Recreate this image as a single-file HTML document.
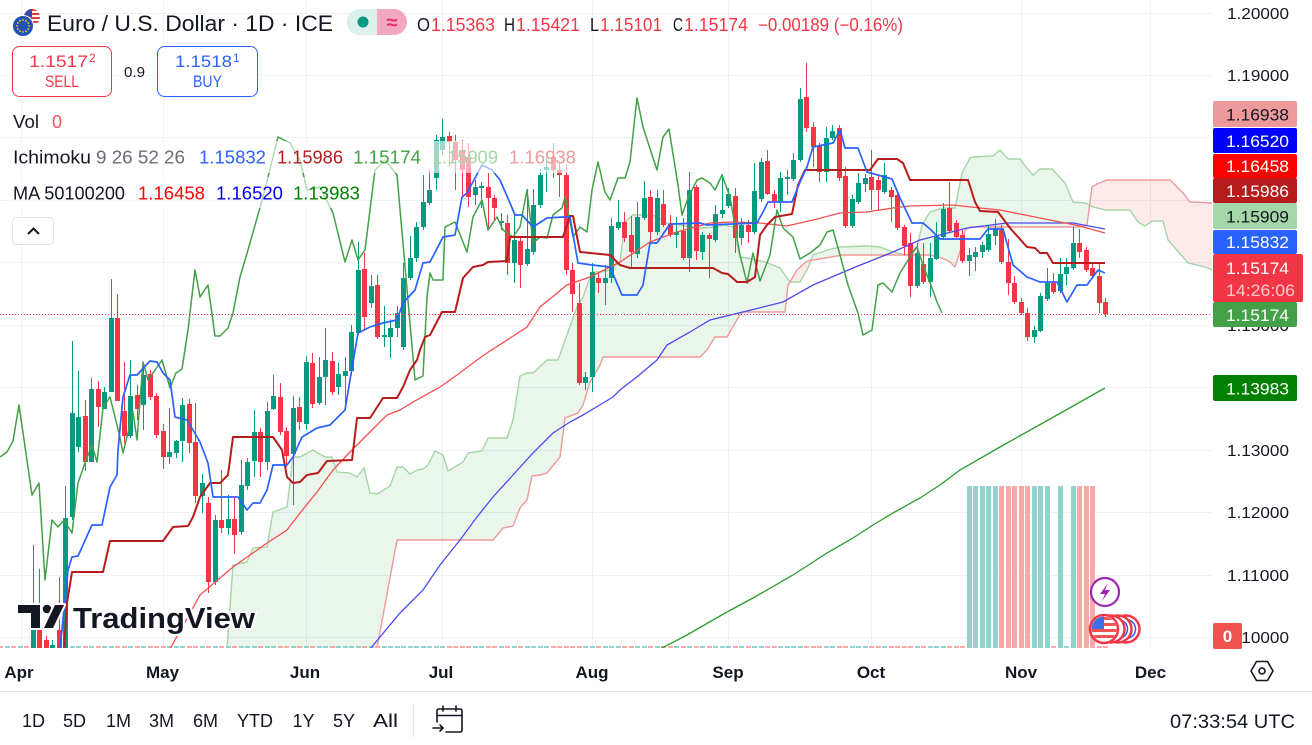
<!DOCTYPE html>
<html><head><meta charset="utf-8">
<style>
html,body{margin:0;padding:0;background:#fff;}
body{width:1312px;height:745px;overflow:hidden;}
svg{display:block;font-family:"Liberation Sans",sans-serif;}
</style></head>
<body>
<svg id="s" width="1312" height="745" viewBox="0 0 1312 745" xmlns="http://www.w3.org/2000/svg">
<defs>
  <clipPath id="chart"><rect x="0" y="0" width="1212" height="648"/></clipPath>
  <clipPath id="belowA"><polygon id="cpA" points="0,0"/></clipPath>
  <clipPath id="belowB"><polygon id="cpB" points="0,0"/></clipPath>
  <clipPath id="flagc"><circle cx="1104" cy="629" r="12.5"/></clipPath>
  <clipPath id="usc"><circle cx="32" cy="17" r="8"/></clipPath>
</defs>

<!-- grid -->
<g stroke="#EEF1F6" stroke-width="1">
  <line x1="0" y1="13.5" x2="1212" y2="13.5"/>
  <line x1="0" y1="75.5" x2="1212" y2="75.5"/>
  <line x1="0" y1="137.5" x2="1212" y2="137.5"/>
  <line x1="0" y1="200.5" x2="1212" y2="200.5"/>
  <line x1="0" y1="262.5" x2="1212" y2="262.5"/>
  <line x1="0" y1="325.5" x2="1212" y2="325.5"/>
  <line x1="0" y1="387.5" x2="1212" y2="387.5"/>
  <line x1="0" y1="450.5" x2="1212" y2="450.5"/>
  <line x1="0" y1="512.5" x2="1212" y2="512.5"/>
  <line x1="0" y1="575.5" x2="1212" y2="575.5"/>
  <line x1="0" y1="637.5" x2="1212" y2="637.5"/>
  <line x1="21.5" y1="0" x2="21.5" y2="648"/>
  <line x1="163.5" y1="0" x2="163.5" y2="648"/>
  <line x1="306.5" y1="0" x2="306.5" y2="648"/>
  <line x1="442.5" y1="0" x2="442.5" y2="648"/>
  <line x1="592.5" y1="0" x2="592.5" y2="648"/>
  <line x1="728.5" y1="0" x2="728.5" y2="648"/>
  <line x1="871.5" y1="0" x2="871.5" y2="648"/>
  <line x1="1021.5" y1="0" x2="1021.5" y2="648"/>
  <line x1="1150.5" y1="0" x2="1150.5" y2="648"/>
</g>

<g clip-path="url(#chart)">
  <!-- cloud -->
  <g clip-path="url(#belowA)"><polygon id="cloudG" points="0,0" fill="rgba(67,160,71,0.11)"/></g>
  <g clip-path="url(#belowB)"><polygon id="cloudR" points="0,0" fill="rgba(244,67,54,0.11)"/></g>
  <polyline id="spanA" fill="none" stroke="#A5D6A7" stroke-width="1.4" points="0,0"/>
  <polyline id="spanB" fill="none" stroke="#EF9A9A" stroke-width="1.4" points="0,0"/>

  <!-- volume -->
  <g id="vol"></g>

  <!-- candles -->
  <g id="candles"></g>

  <!-- moving averages -->
  <polyline fill="none" stroke="#2E9A2E" stroke-width="1.3" points="660,649 687,635 713,620 727,612 753,598 793,575 827,553 853,538 873,525 893,513 920,498 940,485 960,470 1000,447 1050,419 1105,388"/>
  <polyline fill="none" stroke="#4B4BF2" stroke-width="1.3" points="370,649 380,637 400,613 423,590 440,565 460,540 477,517 493,497 513,475 533,453 553,433 570,422 583,415 593,409 613,397 620,390 638,376 657,360 667,345 690,332 710,320 743,312 783,302 813,285 853,268 893,252 920,240 967,228 1007,223 1073,223 1105,229"/>
  <polyline fill="none" stroke="#F5504F" stroke-width="1.3" points="170,649 200,595 233,567 267,543 287,530 300,513 317,492 333,470 350,452 367,435 387,415 400,410 413,402 440,387 457,375 477,360 487,353 527,327 540,307 567,285 590,277 620,262 650,242 677,232 710,223 733,222 760,223 787,226 813,220 840,213 867,212 893,208 910,206 953,205 980,208 1000,210 1040,218 1080,226 1105,233"/>

  <!-- ichimoku -->
  <polyline fill="none" stroke="#43A047" stroke-width="1.5" stroke-linejoin="round" points="0,457 7,452 13,441 19,405 32,495 39,483 45,580 52,520 58,527 64,520 72,533 78,483 85,463 92,445 97,462 103,408 110,397 119,433 123,453 133,412 137,440 143,362 148,380 155,370 162,360 170,388 176,373 182,369 188,330 195,270 200,297 208,285 215,336 220,336 228,328 233,313 240,277 248,250 263,197 278,137 290,143 300,160 307,190 320,187 333,213 345,262 352,240 358,260 365,250 375,170 385,160 397,175 415,380 423,376 427,297 430,273 433,280 443,280 445,227 455,222 467,252 473,217 482,200 488,230 497,217 503,230 513,237 520,227 527,190 533,243 540,237 547,238 553,215 562,208 565,197 573,237 580,227 587,232 592,190 598,162 605,192 610,200 618,178 625,178 630,162 637,98 643,127 657,170 663,137 669,129 678,185 682,215 688,198 697,180 702,178 710,183 715,190 722,175 730,197 740,255 747,283 753,253 760,281 770,255 777,210 783,228 793,237 800,259 810,253 820,245 827,232 833,230 840,255 848,285 858,313 863,335 872,330 878,285 883,283 892,292 900,273 905,265 913,252 917,247 923,265 932,288 937,302 942,313"/>
  <polyline fill="none" stroke="#B71C1C" stroke-width="2" stroke-linejoin="round" points="64,649 67,603 72,572 103,572 110,541 163,541 173,527 188,526 193,517 200,497 210,483 220,483 228,475 233,437 273,437 282,450 287,477 293,483 300,482 307,475 318,473 327,461 352,460 357,418 370,418 383,398 397,398 403,387 410,370 417,360 420,350 425,337 430,335 442,312 455,312 463,278 473,267 483,265 488,262 507,261 510,237 563,237 570,216 573,216 580,252 600,254 610,255 620,265 630,268 713,268 722,273 728,274 737,282 747,282 755,277 760,235 767,225 775,217 792,214 798,185 805,170 870,170 878,159 897,159 903,163 910,180 968,180 975,202 980,211 998,212 1010,228 1027,247 1035,248 1040,253 1047,253 1053,263 1105,263"/>
  <polyline fill="none" stroke="#2962FF" stroke-width="1.7" stroke-linejoin="round" points="60,649 68,570 72,557 78,556 92,525 102,525 110,487 117,475 118,450 123,397 130,375 137,375 150,361 157,362 163,373 170,380 175,417 187,420 200,442 208,463 213,497 238,497 247,510 253,503 260,503 267,490 273,465 287,465 293,457 302,437 317,428 330,425 345,410 350,380 358,333 370,327 383,323 397,320 403,303 415,290 423,263 430,262 443,237 455,235 462,197 467,193 482,165 492,170 500,180 510,203 515,215 522,215 533,227 547,218 563,217 570,217 578,263 592,265 610,267 622,295 637,295 643,285 650,243 657,243 670,224 700,223 707,225 757,223 763,212 768,202 792,202 800,182 807,167 813,147 833,143 840,130 845,148 858,148 867,172 892,179 900,198 912,223 923,223 930,229 940,239 980,239 988,229 1003,229 1013,265 1027,277 1040,282 1057,282 1067,302 1077,285 1087,285 1098,270 1105,273"/>

  <!-- last price dotted line -->
  <line x1="0" y1="314.5" x2="1212" y2="314.5" stroke="#F23645" stroke-width="1" stroke-dasharray="1 2"/>
</g>

<!-- legend overlays -->
<rect x="8" y="141" width="574" height="32" fill="#fff" fill-opacity="0.6"/>
<rect x="8" y="177" width="358" height="31" fill="#fff" fill-opacity="0.6"/>

<!-- header icon -->
<g clip-path="url(#usc)">
  <rect x="24" y="9" width="16" height="16" fill="#fff"/>
  <rect x="24" y="9" width="16" height="2" fill="#E53935"/>
  <rect x="24" y="13" width="16" height="2" fill="#E53935"/>
  <rect x="24" y="17" width="16" height="2" fill="#E53935"/>
  <rect x="24" y="21" width="16" height="2" fill="#E53935"/>
  <rect x="24" y="9" width="8" height="8" fill="#3949AB"/>
</g>
<circle cx="23" cy="26" r="10.5" fill="#2352B5" stroke="#fff" stroke-width="1"/>
<g id="stars" fill="#FFD600"></g>

<text x="47" y="31" font-size="22" fill="#131722" textLength="286" lengthAdjust="spacingAndGlyphs">Euro / U.S. Dollar · 1D · ICE</text>

<!-- status pill -->
<rect x="347" y="9" width="60" height="26" rx="13" fill="#F3A7C1"/>
<path d="M360,9 H377 V35 H360 A13,13 0 0 1 360,9 Z" fill="#DCF1EE"/>
<circle cx="363" cy="22" r="5.5" fill="#089981"/>
<text x="392" y="29" font-size="20" fill="#E0306A" text-anchor="middle" font-weight="bold">≈</text>

<!-- OHLC -->
<g font-size="18">
  <text x="417" y="31" fill="#131722" textLength="13" lengthAdjust="spacingAndGlyphs">O</text>
  <text x="431" y="31" fill="#F23645" textLength="64" lengthAdjust="spacingAndGlyphs">1.15363</text>
  <text x="504" y="31" fill="#131722" textLength="11" lengthAdjust="spacingAndGlyphs">H</text>
  <text x="516" y="31" fill="#F23645" textLength="64" lengthAdjust="spacingAndGlyphs">1.15421</text>
  <text x="590" y="31" fill="#131722" textLength="9" lengthAdjust="spacingAndGlyphs">L</text>
  <text x="600" y="31" fill="#F23645" textLength="62" lengthAdjust="spacingAndGlyphs">1.15101</text>
  <text x="673" y="31" fill="#131722" textLength="10" lengthAdjust="spacingAndGlyphs">C</text>
  <text x="684" y="31" fill="#F23645" textLength="64" lengthAdjust="spacingAndGlyphs">1.15174</text>
  <text x="758" y="31" fill="#F23645" textLength="145" lengthAdjust="spacingAndGlyphs">−0.00189 (−0.16%)</text>
</g>

<!-- sell / buy -->
<rect x="12.5" y="46.5" width="99" height="50" rx="7" fill="#fff" stroke="#F23645" stroke-width="1"/>
<text x="29" y="67" font-size="17" fill="#F23645" textLength="59" lengthAdjust="spacingAndGlyphs">1.1517</text>
<text x="89" y="62" font-size="12" fill="#F23645">2</text>
<text x="45" y="87" font-size="17" fill="#F23645" textLength="34" lengthAdjust="spacingAndGlyphs">SELL</text>
<text x="124" y="77" font-size="15" fill="#131722" textLength="21" lengthAdjust="spacingAndGlyphs">0.9</text>
<rect x="157.5" y="46.5" width="100" height="50" rx="7" fill="#fff" stroke="#2962FF" stroke-width="1"/>
<text x="175" y="67" font-size="17" fill="#2962FF" textLength="57" lengthAdjust="spacingAndGlyphs">1.1518</text>
<text x="233" y="62" font-size="12" fill="#2962FF">1</text>
<text x="193" y="87" font-size="17" fill="#2962FF" textLength="29" lengthAdjust="spacingAndGlyphs">BUY</text>

<!-- legend rows -->
<g font-size="18">
  <text x="13" y="128" fill="#131722" textLength="26" lengthAdjust="spacingAndGlyphs">Vol</text>
  <text x="52" y="128" fill="#F7525F" textLength="10" lengthAdjust="spacingAndGlyphs">0</text>

  <text x="13" y="163.5" fill="#131722" textLength="78" lengthAdjust="spacingAndGlyphs">Ichimoku</text>
  <text x="96" y="163.5" fill="#6A6D78" textLength="89" lengthAdjust="spacingAndGlyphs">9 26 52 26</text>
  <text x="199" y="163.5" fill="#2962FF" textLength="67" lengthAdjust="spacingAndGlyphs">1.15832</text>
  <text x="277" y="163.5" fill="#B71C1C" textLength="66" lengthAdjust="spacingAndGlyphs">1.15986</text>
  <text x="353" y="163.5" fill="#43A047" textLength="68" lengthAdjust="spacingAndGlyphs">1.15174</text>
  <text x="432" y="163.5" fill="#A5D6A7" textLength="66" lengthAdjust="spacingAndGlyphs">1.15909</text>
  <text x="509" y="163.5" fill="#EF9A9A" textLength="67" lengthAdjust="spacingAndGlyphs">1.16938</text>

  <text x="13" y="199.5" fill="#131722" textLength="112" lengthAdjust="spacingAndGlyphs">MA 50100200</text>
  <text x="138" y="199.5" fill="#FF0000" textLength="67" lengthAdjust="spacingAndGlyphs">1.16458</text>
  <text x="216" y="199.5" fill="#0000FF" textLength="67" lengthAdjust="spacingAndGlyphs">1.16520</text>
  <text x="293" y="199.5" fill="#008000" textLength="67" lengthAdjust="spacingAndGlyphs">1.13983</text>
</g>
<rect x="12.5" y="217.5" width="41" height="27" rx="4" fill="#fff" stroke="#E0E3EB"/>
<polyline points="28,234 33.5,228.5 39,234" fill="none" stroke="#131722" stroke-width="2"/>

<!-- TradingView logo -->
<g>
  <g stroke="#fff" stroke-width="4" stroke-linejoin="round" fill="#131722" paint-order="stroke">
    <path d="M18,605 H40 V628 H31 V613 H18 Z"/>
    <circle cx="47" cy="609" r="4.3"/>
    <path d="M44,628 L55,605 H64 L53,628 Z"/>
  </g>
  <text x="73" y="628" font-size="29" font-weight="bold" fill="#131722" stroke="#fff" stroke-width="4" paint-order="stroke" textLength="182" lengthAdjust="spacingAndGlyphs">TradingView</text>
</g>

<!-- event icons -->
<circle cx="1105" cy="592" r="14" fill="#fff" stroke="#9C27B0" stroke-width="2.2"/>
<path d="M1108,583 L1100,594 L1105,594 L1102,601 L1110,590 L1105,590 Z" fill="#9C27B0"/>
<circle cx="1126" cy="629" r="13.5" fill="#fff" stroke="#F23645" stroke-width="2.5"/>
<circle cx="1126" cy="629" r="9.5" fill="none" stroke="#2962FF" stroke-width="1.5"/>
<circle cx="1118" cy="629" r="13.5" fill="#fff" stroke="#F23645" stroke-width="2.5"/>
<circle cx="1118" cy="629" r="9.5" fill="none" stroke="#2962FF" stroke-width="1.5"/>
<circle cx="1111" cy="629" r="13.5" fill="#fff" stroke="#F23645" stroke-width="2.5"/>
<circle cx="1104" cy="629" r="14" fill="#fff" stroke="#F23645" stroke-width="2.5"/>
<g clip-path="url(#flagc)">
  <rect x="1090" y="615" width="28" height="28" fill="#fff"/>
  <rect x="1090" y="617" width="28" height="3" fill="#EF5350"/>
  <rect x="1090" y="623" width="28" height="3" fill="#EF5350"/>
  <rect x="1090" y="629" width="28" height="3" fill="#EF5350"/>
  <rect x="1090" y="635" width="28" height="3" fill="#EF5350"/>
  <rect x="1090" y="615" width="14" height="14" fill="#3D6FE8"/>
</g>

<!-- price axis ticks -->
<g font-size="16" fill="#131722">
  <text x="1227" y="19" textLength="62" lengthAdjust="spacingAndGlyphs">1.20000</text>
  <text x="1227" y="81" textLength="62" lengthAdjust="spacingAndGlyphs">1.19000</text>
  <text x="1227" y="331" textLength="62" lengthAdjust="spacingAndGlyphs">1.15000</text>
  <text x="1227" y="456" textLength="62" lengthAdjust="spacingAndGlyphs">1.13000</text>
  <text x="1227" y="518" textLength="62" lengthAdjust="spacingAndGlyphs">1.12000</text>
  <text x="1227" y="581" textLength="62" lengthAdjust="spacingAndGlyphs">1.11000</text>
  <text x="1227" y="643" textLength="62" lengthAdjust="spacingAndGlyphs">1.10000</text>
</g>

<!-- price axis labels -->
<g font-size="17">
  <rect x="1213" y="101" width="84" height="26" rx="2" fill="#EF9A9A"/>
  <text x="1226" y="120.5" fill="#131722" textLength="63" lengthAdjust="spacingAndGlyphs">1.16938</text>
  <rect x="1213" y="128" width="84" height="25" rx="2" fill="#0000FF"/>
  <text x="1226" y="147" fill="#fff" textLength="63" lengthAdjust="spacingAndGlyphs">1.16520</text>
  <rect x="1213" y="154" width="84" height="24" rx="2" fill="#FF0000"/>
  <text x="1226" y="172" fill="#fff" textLength="63" lengthAdjust="spacingAndGlyphs">1.16458</text>
  <rect x="1213" y="178" width="84" height="25" rx="2" fill="#B71C1C"/>
  <text x="1226" y="197" fill="#fff" textLength="63" lengthAdjust="spacingAndGlyphs">1.15986</text>
  <rect x="1213" y="203" width="84" height="26" rx="2" fill="#A5D6A7"/>
  <text x="1226" y="222.5" fill="#131722" textLength="63" lengthAdjust="spacingAndGlyphs">1.15909</text>
  <rect x="1213" y="230" width="84" height="24" rx="2" fill="#2962FF"/>
  <text x="1226" y="248" fill="#fff" textLength="63" lengthAdjust="spacingAndGlyphs">1.15832</text>
  <rect x="1213" y="254" width="90" height="48" rx="2" fill="#F23645"/>
  <text x="1226" y="274" fill="#fff" textLength="63" lengthAdjust="spacingAndGlyphs">1.15174</text>
  <text x="1226" y="296" fill="#FFC9CD" textLength="69" lengthAdjust="spacingAndGlyphs">14:26:06</text>
  <rect x="1213" y="302" width="84" height="25" rx="2" fill="#43A047"/>
  <text x="1226" y="321" fill="#fff" textLength="63" lengthAdjust="spacingAndGlyphs">1.15174</text>
  <rect x="1213" y="375" width="84" height="26" rx="2" fill="#008000"/>
  <text x="1226" y="394.5" fill="#fff" textLength="63" lengthAdjust="spacingAndGlyphs">1.13983</text>
  <rect x="1213" y="623" width="29" height="26" rx="2" fill="#EF5350"/>
  <text x="1227.5" y="642" fill="#fff" text-anchor="middle" font-weight="bold">0</text>
</g>

<!-- time axis -->
<g font-size="17" font-weight="bold" fill="#131722" text-anchor="middle">
  <text x="19" y="678">Apr</text>
  <text x="162.5" y="678">May</text>
  <text x="305" y="678">Jun</text>
  <text x="441" y="678">Jul</text>
  <text x="592" y="678">Aug</text>
  <text x="728" y="678">Sep</text>
  <text x="871" y="678">Oct</text>
  <text x="1021" y="678">Nov</text>
  <text x="1150.5" y="678">Dec</text>
</g>
<polygon points="1256.5,661.5 1267.5,661.5 1273,671 1267.5,680.5 1256.5,680.5 1251,671" fill="none" stroke="#131722" stroke-width="1.6" stroke-linejoin="round"/>
<circle cx="1262" cy="671" r="3" fill="none" stroke="#131722" stroke-width="1.6"/>

<line x1="0" y1="691.5" x2="1312" y2="691.5" stroke="#E0E3EB" stroke-width="1"/>

<!-- bottom toolbar -->
<g font-size="18" fill="#131722">
  <text x="22" y="727">1D</text>
  <text x="63" y="727">5D</text>
  <text x="106" y="727">1M</text>
  <text x="149" y="727">3M</text>
  <text x="193" y="727">6M</text>
  <text x="237" y="727" textLength="36" lengthAdjust="spacingAndGlyphs">YTD</text>
  <text x="292.5" y="727">1Y</text>
  <text x="333" y="727">5Y</text>
  <text x="373" y="727" textLength="25" lengthAdjust="spacingAndGlyphs">All</text>
  <text x="1170" y="728" font-size="19" textLength="125" lengthAdjust="spacingAndGlyphs">07:33:54 UTC</text>
</g>
<line x1="413.5" y1="704" x2="413.5" y2="737" stroke="#E0E3EB" stroke-width="1.2"/>
<g fill="none" stroke="#131722" stroke-width="1.6" stroke-linecap="round" stroke-linejoin="round">
  <path d="M437,722 V711 Q437,709 439,709 H460 Q462,709 462,711 V730 Q462,732 460,732 H446"/>
  <line x1="437" y1="715.5" x2="462" y2="715.5"/>
  <line x1="443" y1="706" x2="443" y2="711"/>
  <line x1="456" y1="706" x2="456" y2="711"/>
  <line x1="433" y1="728" x2="443" y2="728"/>
  <polyline points="440,725 443,728 440,731"/>
</g>

<script>
(function(){
var NS='http://www.w3.org/2000/svg';
function el(tag,attrs,parent){var e=document.createElementNS(NS,tag);for(var k in attrs)e.setAttribute(k,attrs[k]);parent.appendChild(e);return e;}

// EU stars
var st=document.getElementById('stars');
for(var i=0;i<12;i++){var a=i*Math.PI/6;el('circle',{cx:(23+6*Math.cos(a)).toFixed(2),cy:(26+6*Math.sin(a)).toFixed(2),r:'0.9'},st);}

// cloud
var A="223,700 227,649 233,565 247,562 253,548 267,547 273,512 287,507 293,457 300,457 313,450 325,457 332,457 337,472 350,473 357,477 364,468 370,493 377,494 390,486 397,467 403,467 410,474 417,470 423,469 428,465 435,451 443,455 448,471 463,462 468,453 482,451 488,438 507,438 513,420 520,376 527,373 533,373 547,360 558,360 568,332 577,307 583,297 592,272 600,272 610,270 620,262 625,222 633,215 653,215 667,223 700,228 717,227 723,225 733,227 740,257 747,258 765,262 780,268 790,282 800,282 808,268 813,255 827,250 840,247 867,246 880,247 893,252 907,255 917,247 922,225 930,212 943,208 955,208 958,193 962,173 970,158 973,157 993,156 1000,150 1008,159 1020,159 1027,168 1033,175 1040,169 1052,169 1065,183 1073,202 1086,203 1093,207 1106,210 1130,210 1138,222 1145,226 1152,221 1163,221 1168,240 1175,248 1188,263 1193,264 1208,268 1212,270";
var B="223,700 367,700 377,648 397,540 493,540 503,528 513,526 520,508 527,500 532,476 540,475 547,473 560,457 565,418 578,413 583,405 590,382 600,365 603,357 700,357 707,350 715,337 727,337 738,318 742,312 785,312 788,285 797,270 807,261 843,255 930,255 942,258 950,262 955,267 962,245 965,230 970,227 1080,227 1087,225 1092,187 1097,184 1107,180 1170,180 1177,187 1183,193 1190,202 1212,203";
var Br=B.split(' ').reverse().join(' ');
var P=A+' '+Br;
document.getElementById('cloudG').setAttribute('points',P);
document.getElementById('cloudR').setAttribute('points',P);
document.getElementById('cpA').setAttribute('points','0,700 '+A+' 1212,800 0,800');
document.getElementById('cpB').setAttribute('points','0,700 '+B+' 1212,800 0,800');
document.getElementById('spanA').setAttribute('points',A);
document.getElementById('spanB').setAttribute('points',B);

// candles: k color bodyTop bodyBottom wickTop wickBottom
var D="165 G 630 650 545 650\n164 R 630 650 569 650\n163 R 640 650 636 650\n162 G 645 650 640 650\n161 R 630 650 577 650\n160 G 518 650 486 650\n159 G 413 517 341 520\n158 G 417 447 371 452\n157 R 416 462 400 471\n156 G 389 462 378 462\n155 R 389 407 381 427\n154 G 392 409 387 409\n153 G 318 392 279 392\n152 R 318 401 294 401\n151 R 411 436 362 443\n150 G 396 436 360 438\n149 R 395 409 385 420\n148 G 375 405 367 430\n147 R 374 397 370 400\n146 R 396 435 393 438\n145 R 431 457 424 469\n144 G 452 457 408 464\n143 G 441 453 440 458\n142 G 405 441 398 462\n141 R 404 443 399 453\n140 R 442 496 403 503\n139 G 483 496 474 513\n138 R 503 582 497 593\n137 G 520 582 515 585\n136 R 520 528 470 533\n135 G 519 528 495 535\n134 R 519 535 498 554\n133 G 485 532 460 535\n132 G 462 486 458 490\n131 G 432 461 410 477\n130 R 432 462 428 477\n129 G 411 462 402 470\n128 G 396 409 375 410\n127 R 397 432 383 435\n126 R 431 456 427 467\n125 G 408 454 396 505\n124 R 407 422 397 430\n123 G 362 424 356 430\n122 R 363 404 353 408\n121 G 377 403 357 405\n120 G 360 377 328 405\n119 R 361 392 352 395\n118 G 374 387 363 395\n117 G 371 376 357 405\n116 G 332 371 325 375\n115 G 270 333 242 335\n114 R 269 317 253 330\n113 G 286 303 275 308\n112 R 285 337 275 339\n111 G 335 337 306 347\n110 G 328 337 320 358\n109 G 313 328 306 337\n108 G 278 347 263 350\n107 G 258 278 236 280\n106 G 227 258 222 262\n105 G 202 227 175 230\n104 G 190 203 170 205\n103 G 140 178 135 190\n102 G 137 150 119 155\n101 R 136 142 132 167\n100 R 142 160 135 190\n99 R 150 170 140 198\n98 R 157 197 143 207\n97 G 187 195 180 205\n96 G 186 188 182 208\n95 R 187 198 173 230\n94 R 198 208 195 220\n93 G 221 223 213 230\n92 R 223 263 215 275\n91 G 240 263 213 283\n90 R 241 265 237 288\n89 G 249 264 189 266\n88 G 205 252 189 255\n87 G 175 205 169 208\n86 G 167 170 157 192\n85 R 157 170 143 178\n84 R 170 175 162 197\n83 R 175 270 165 275\n82 R 270 294 263 312\n81 R 303 383 283 385\n80 G 377 383 372 390\n79 G 272 377 263 392\n78 R 278 283 273 293\n77 G 278 283 265 305\n76 G 226 278 218 283\n75 G 222 228 200 230\n74 R 222 238 212 242\n73 R 235 252 216 267\n72 G 217 254 202 258\n71 G 198 218 181 220\n70 R 197 232 190 243\n69 G 198 232 190 235\n68 R 204 225 190 227\n67 R 224 235 215 237\n66 G 232 235 217 248\n65 R 231 258 218 260\n64 G 190 258 172 272\n63 R 187 251 185 260\n62 G 235 252 232 260\n61 R 235 239 233 278\n60 G 214 240 205 242\n59 G 210 214 174 218\n58 G 194 206 188 208\n57 R 196 238 188 253\n56 G 225 238 218 245\n55 R 225 232 220 243\n54 G 191 232 163 234\n53 G 162 199 158 202\n52 R 161 194 150 195\n51 R 194 201 190 208\n50 G 178 201 172 212\n49 G 177 179 170 195\n48 G 160 179 153 181\n47 G 99 160 88 162\n46 R 97 128 63 132\n45 R 127 147 122 167\n44 R 146 172 143 182\n43 G 138 172 127 182\n42 G 131 138 125 140\n41 R 128 178 125 181\n40 R 176 226 167 228\n39 G 199 226 195 228\n38 G 183 202 173 204\n37 G 178 184 174 192\n36 R 177 190 150 210\n35 R 180 190 174 210\n34 G 175 192 163 194\n33 R 190 197 187 222\n32 R 195 228 192 230\n31 R 227 246 225 255\n30 R 243 286 233 297\n29 G 253 286 243 288\n28 R 264 282 243 284\n27 G 258 282 243 297\n26 G 237 259 222 260\n25 G 209 237 203 240\n24 R 208 231 182 233\n23 R 223 237 220 238\n22 R 235 261 230 263\n21 G 255 261 248 276\n20 G 252 257 247 271\n19 G 245 252 242 258\n18 G 234 250 226 252\n17 G 228 236 219 245\n16 R 230 262 225 264\n15 R 262 283 239 295\n14 R 283 302 276 304\n13 R 302 313 298 315\n12 R 313 337 308 341\n11 G 330 337 326 343\n10 G 296 331 293 332\n9 G 283 299 268 301\n8 R 283 292 273 294\n7 G 274 291 258 293\n6 G 267 274 258 285\n5 G 243 268 227 270\n4 R 243 252 229 258\n3 R 250 270 247 272\n2 R 268 276 263 278\n1 R 276 303 264 313\n0 R 302 314 298 317";
var cg=document.getElementById('candles');
var colors={};
D.split('\n').forEach(function(l){
  var p=l.trim().split(/\s+/);var k=+p[0],c=p[1],bt=+p[2],bb=+p[3],wt=+p[4],wb=+p[5];
  colors[k]=c;
  var x=Math.round(1105.3-6.5*k);var col=c==='G'?'#089981':'#F23645';
  el('rect',{x:x,y:wt,width:1,height:Math.max(1,wb-wt),fill:col},cg);
  el('rect',{x:x-2,y:bt,width:5,height:Math.max(1,bb-bt),fill:col},cg);
});

// volume
var vg=document.getElementById('vol');
var tall={21:1,20:1,19:1,18:1,17:1,16:1,15:1,14:1,13:1,12:1,11:1,10:1,9:1,7:1,5:1,4:1,3:1,2:1};
for(var k=0;k<=171;k++){
  var x=Math.round(1105.3-6.5*k);
  var c=colors[k]||(k%2?'G':'R');
  var col=c==='G'?'#92D2CC':'#F7A9A7';
  if(tall[k]) el('rect',{x:x-2,y:486,width:5,height:162,fill:col},vg);
  else el('rect',{x:x-2,y:646,width:5,height:2,fill:col},vg);
}
})();
</script>
</svg>
</body></html>
